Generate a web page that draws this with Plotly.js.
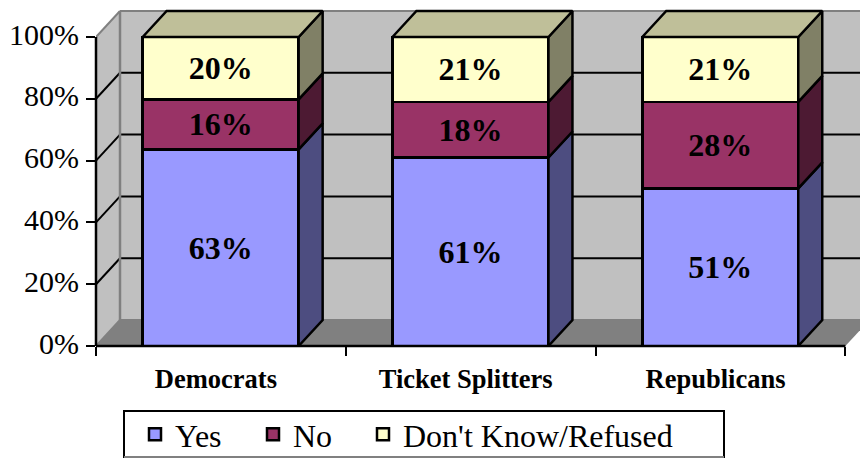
<!DOCTYPE html>
<html>
<head>
<meta charset="utf-8">
<script src="https://cdn.plot.ly/plotly-3.0.1.min.js"></script>
<style>html,body{margin:0;padding:0;background:#fff}#chart{width:860px;height:459px}</style>
</head>
<body>
<div id="chart"></div>
<script>
const categories = ["Democrats", "Ticket Splitters", "Republicans"];
const yes = [63, 61, 51];
const no = [16, 18, 28];
const dontKnow = [20, 21, 21];
const seriesNames = ["Yes", "No", "Don't Know/Refused"];
const frontColors = ["#9999FF", "#993366", "#FFFFCC"];
const sideColors = ["#4D4D80", "#4D1A33", "#808066"];
const topColor = "#BFBF99";
const yTicks = [0, 20, 40, 60, 80, 100];

const series = [yes, no, dontKnow];
const FONT = "'Liberation Serif','Times New Roman',serif";
const LEFT = 96, PX_X = 249.8, PX_Y = 3.09;
const DX = 24 / PX_X, DY = 26 / PX_Y;
const BAR_W = 156 / PX_X, HALF = BAR_W / 2;
const centers = categories.map((_, i) => i + 0.499);

const traces = series.map((vals, s) => ({
  type: "bar", name: seriesNames[s], x: centers, y: vals, width: BAR_W,
  legend: s === 2 ? "legend2" : "legend",
  marker: {color: frontColors[s], line: {color: "#000", width: 2.5}},
  text: vals.map(v => v + "%"), textposition: "inside", insidetextanchor: "middle",
  textangle: 0, constraintext: "none",
  textfont: {family: FONT, size: 32, color: "#000", weight: "bold"},
  hoverinfo: "skip", cliponaxis: false
}));

// side faces and top faces follow the normalised stack
const polys = (fn) => {
  const xs = [], ys = [];
  categories.forEach((_, i) => { const p = fn(i); p.forEach(q => {xs.push(q[0]); ys.push(q[1]);}); xs.push(null); ys.push(null); });
  return {xs, ys};
};
const cum = (i, s) => { let t = 0, a = 0; series.forEach((v, k) => { t += v[i]; if (k < s) a += v[i]; }); return a / t * 100; };
series.forEach((vals, s) => {
  const p = polys(i => {
    const r = centers[i] + HALF, lo = cum(i, s), hi = cum(i, s + 1);
    return [[r, lo], [r + DX, lo + DY], [r + DX, hi + DY], [r, hi], [r, lo]];
  });
  traces.push({type: "scatter", mode: "lines", x: p.xs, y: p.ys, fill: "toself", fillcolor: sideColors[s],
    line: {color: "#000", width: 2.5}, showlegend: false, hoverinfo: "skip", cliponaxis: false});
});
const tp = polys(i => {
  const l = centers[i] - HALF, r = centers[i] + HALF;
  return [[l, 100], [l + DX, 100 + DY], [r + DX, 100 + DY], [r, 100], [l, 100]];
});
traces.push({type: "scatter", mode: "lines", x: tp.xs, y: tp.ys, fill: "toself", fillcolor: topColor,
  line: {color: "#000", width: 2.5}, showlegend: false, hoverinfo: "skip", cliponaxis: false});

const N = categories.length;
const shapes = [
  {type: "path", layer: "below", path: `M0,0 L${DX},${DY} L${DX},${100 + DY} L0,100 Z`, fillcolor: "#C0C0C0", line: {width: 0}},
  {type: "path", layer: "below", path: `M${DX},${DY} L${N + DX},${DY} L${N + DX},${100 + DY} L${DX},${100 + DY} Z`, fillcolor: "#C0C0C0", line: {width: 0}},
  {type: "path", layer: "below", path: `M0,0 L${DX},${DY} L${N + DX},${DY} L${N},0 Z`, fillcolor: "#808080", line: {width: 0}}
];
yTicks.forEach(t => {
  const edge = t === 0 || t === 100;
  const c = edge ? "#808080" : "#000";
  shapes.push({type: "line", layer: "below", x0: 0, y0: t, x1: DX, y1: t + DY, line: {color: c, width: 2}});
  shapes.push({type: "line", layer: "below", x0: DX, y0: t + DY, x1: N + DX, y1: t + DY, line: {color: c, width: 2}});
});
shapes.push({type: "line", layer: "below", x0: DX, y0: DY, x1: DX, y1: 100 + DY, line: {color: "#808080", width: 2.5}});
// axis lines
shapes.push({type: "line", layer: "above", xref: "x", yref: "paper", x0: 0, x1: N, y0: 0, y1: 0, line: {color: "#000", width: 2.5}});
shapes.push({type: "line", layer: "above", xref: "paper", yref: "y", x0: 0, x1: 0, y0: 0, y1: 100, line: {color: "#000", width: 2.5}});
// legend frame
shapes.push({type: "rect", layer: "above", xref: "paper", yref: "paper", xsizemode: "pixel", ysizemode: "pixel",
  xanchor: 0, yanchor: 0, x0: 124 - LEFT, x1: 724 - LEFT, y0: 346 - 411, y1: 346 - 457,
  line: {color: "#000", width: 2}, fillcolor: "rgba(0,0,0,0)"});
shapes.push({type: "line", layer: "above", xref: "paper", yref: "paper", xsizemode: "pixel", ysizemode: "pixel",
  xanchor: 0, yanchor: 0, x0: 124 - LEFT, x1: 724 - LEFT, y0: 346 - 457, y1: 346 - 457,
  line: {color: "#808080", width: 2}});

const legendBase = {
  orientation: "h", traceorder: "normal", xref: "container", yref: "container",
  xanchor: "left", yanchor: "top", bgcolor: "rgba(0,0,0,0)", borderwidth: 0,
  font: {family: FONT, size: 32, color: "#000"}
};

const layout = {
  width: 860, height: 459,
  margin: {l: LEFT, r: 0, t: 9, b: 113, pad: 0},
  paper_bgcolor: "#fff", plot_bgcolor: "rgba(0,0,0,0)",
  barmode: "stack", barnorm: "percent",
  font: {family: FONT, color: "#000"},
  xaxis: {
    type: "linear", range: [0, (860 - LEFT) / PX_X], showgrid: false, zeroline: false, showline: false,
    tickvals: categories.map((_, i) => i + 0.48), ticktext: categories, ticks: "", ticklabelstandoff: 14,
    tickfont: {family: FONT, size: 26.5, color: "#000", weight: "bold"},
    minor: {tickvals: categories.map((_, i) => i).concat([N]), ticks: "outside", ticklen: 9, tickwidth: 2, tickcolor: "#000", showgrid: false}
  },
  yaxis: {
    range: [0, 337 / PX_Y], showgrid: false, zeroline: false, showline: false,
    tickvals: yTicks, ticktext: yTicks.map(t => t + "%"), ticks: "outside", ticklen: 9, tickwidth: 2, tickcolor: "#000",
    ticklabelstandoff: 1, ticklabelshift: -3, tickfont: {family: FONT, size: 30, color: "#000"}
  },
  shapes,
  showlegend: true,
  legend: Object.assign({}, legendBase, {x: 135 / 860, y: 1 - 407 / 459, entrywidth: 73, entrywidthmode: "pixels"}),
  legend2: Object.assign({}, legendBase, {x: 363 / 860, y: 1 - 407 / 459})
};
Plotly.newPlot("chart", traces, layout, {displayModeBar: false, staticPlot: true});
</script>
</body>
</html>
